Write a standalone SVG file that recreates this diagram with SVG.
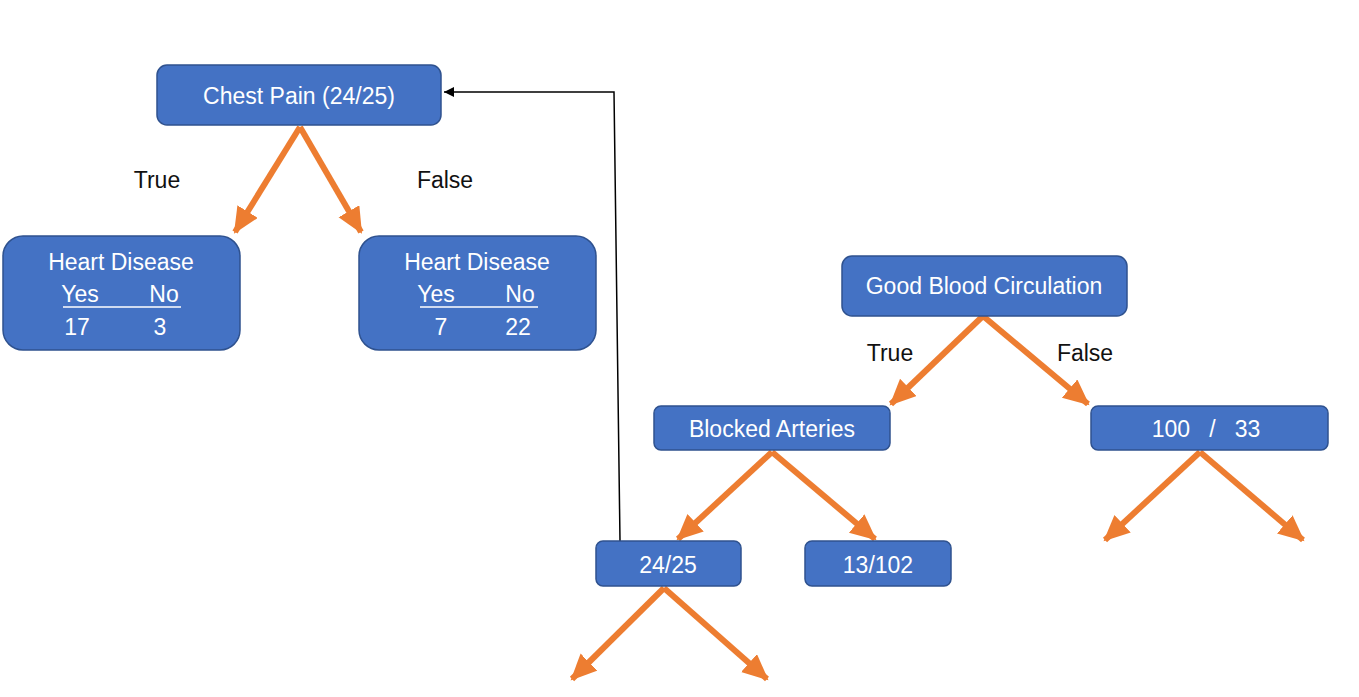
<svg xmlns="http://www.w3.org/2000/svg" width="1359" height="697" viewBox="0 0 1359 697">
<style>
.box{fill:#4472C4;stroke:#2F528F;stroke-width:1.5}
.t{font-family:"Liberation Sans",Arial,sans-serif;font-size:23px;fill:#fff;text-anchor:middle}
.lbl{font-family:"Liberation Sans",Arial,sans-serif;font-size:23px;fill:#111;text-anchor:middle}
.or{stroke:#ED7D31;stroke-width:6;fill:none;marker-end:url(#oa)}
.bk{stroke:#000;stroke-width:1.5;fill:none;marker-end:url(#ba)}
</style>
<defs>
<marker id="oa" markerUnits="userSpaceOnUse" markerWidth="28" markerHeight="26" refX="24" refY="12" orient="auto">
<path d="M0,0 L26,12 L0,24 Z" fill="#ED7D31"/>
</marker>
<marker id="ba" markerUnits="userSpaceOnUse" markerWidth="12" markerHeight="10" refX="10" refY="5" orient="auto">
<path d="M0,0 L10,5 L0,10 Z" fill="#000"/>
</marker>
</defs>
<rect width="1359" height="697" fill="#fff"/>
<g id="connectors">
<path class="or" d="M300,127 L235,232"/>
<path class="or" d="M300,127 L361,232"/>
<path class="or" d="M983,316 L891,404"/>
<path class="or" d="M983,316 L1088,404"/>
<path class="or" d="M772,452 L678,539"/>
<path class="or" d="M772,452 L875,539"/>
<path class="or" d="M1200,452 L1105,540"/>
<path class="or" d="M1200,452 L1303,540"/>
<path class="or" d="M664,588 L572,679"/>
<path class="or" d="M664,588 L767,679"/>
<path class="bk" d="M620,541 L614,92 L444,92"/>
</g>
<g id="labels">
<text class="lbl" x="157" y="188">True</text>
<text class="lbl" x="445" y="188">False</text>
<text class="lbl" x="890" y="361">True</text>
<text class="lbl" x="1085" y="361">False</text>
</g>
<g id="chest-pain">
<rect class="box" x="157" y="65" width="284" height="60" rx="10"/>
<text class="t" x="299" y="104">Chest Pain (24/25)</text>
</g>
<g id="heart-disease-true">
<rect class="box" x="3" y="236" width="237" height="114" rx="20"/>
<text class="t" x="121" y="270">Heart Disease</text>
<text class="t" x="80" y="302">Yes</text>
<text class="t" x="164" y="302">No</text>
<line x1="63" y1="307" x2="181" y2="307" stroke="#fff" stroke-width="1.5"/>
<text class="t" x="77" y="335">17</text>
<text class="t" x="160" y="335">3</text>
</g>
<g id="heart-disease-false">
<rect class="box" x="359" y="236" width="237" height="114" rx="20"/>
<text class="t" x="477" y="270">Heart Disease</text>
<text class="t" x="436" y="302">Yes</text>
<text class="t" x="520" y="302">No</text>
<line x1="420" y1="307" x2="538" y2="307" stroke="#fff" stroke-width="1.5"/>
<text class="t" x="441" y="335">7</text>
<text class="t" x="518" y="335">22</text>
</g>
<g id="good-blood-circulation">
<rect class="box" x="842" y="256" width="285" height="60" rx="10"/>
<text class="t" x="984" y="294">Good Blood Circulation</text>
</g>
<g id="blocked-arteries">
<rect class="box" x="654" y="406" width="236" height="44" rx="7"/>
<text class="t" x="772" y="437">Blocked Arteries</text>
</g>
<g id="n100-33">
<rect class="box" x="1091" y="406" width="237" height="44" rx="7"/>
<text class="t" x="1206" y="437" xml:space="preserve">100   /   33</text>
</g>
<g id="n24-25">
<rect class="box" x="596" y="541" width="145" height="45" rx="7"/>
<text class="t" x="668" y="573">24/25</text>
</g>
<g id="n13-102">
<rect class="box" x="805" y="541" width="146" height="45" rx="7"/>
<text class="t" x="878" y="573">13/102</text>
</g>
</svg>
